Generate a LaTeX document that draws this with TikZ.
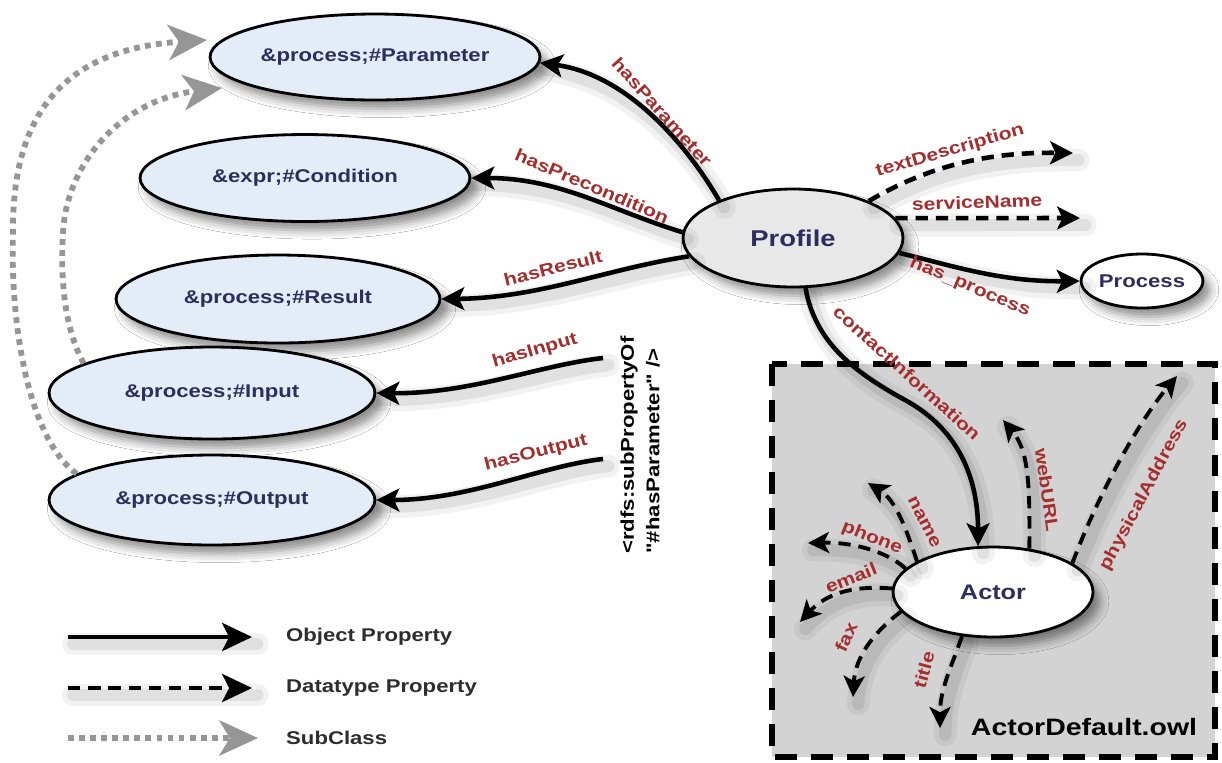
\documentclass[tikz,border=0pt]{standalone}
\usepackage{fontspec}
\setmainfont{Liberation Sans}
\newfontfamily\dfont[FakeStretch=1.2]{Liberation Sans}
\usetikzlibrary{arrows.meta,shapes.geometric,shadows.blur}

\definecolor{nodefill}{RGB}{228,236,247}
\definecolor{proffill}{RGB}{232,232,232}
\definecolor{navy}{RGB}{45,45,95}
\definecolor{labred}{RGB}{165,45,45}
\definecolor{boxgray}{RGB}{211,211,211}
\definecolor{subgray}{RGB}{150,150,150}
\definecolor{legtext}{RGB}{45,45,45}

\tikzset{
  cls/.style={ellipse, draw=black, line width=1.6pt, fill=nodefill, text=navy,
    font=\dfont\bfseries\fontsize{10.5}{12}\selectfont, inner sep=0pt,
    blur shadow={shadow xshift=4pt, shadow yshift=-5pt, shadow blur radius=5pt, shadow opacity=45}},
  shad/.style={
    preaction={draw=black, draw opacity=0.05, line width=13pt, solid, line cap=round,
      transform canvas={shift={(3pt,-4pt)}}, arrows=-},
    preaction={draw=black, draw opacity=0.07, line width=7pt, solid, line cap=round,
      transform canvas={shift={(3pt,-4pt)}}, arrows=-}},
  obj/.style={shad, draw=black, line width=2.6pt, -{Stealth[length=13pt,width=13pt,inset=3pt]}},
  dat/.style={obj, dash pattern=on 7pt off 4.5pt},
  adat/.style={dat, line width=2.2pt, -{Stealth[length=12pt,width=12pt,inset=3pt]}},
  sub/.style={draw=subgray, line width=3.3pt, dash pattern=on 3.3pt off 3pt,
    -{Stealth[length=22pt,width=20pt,inset=6pt]}},
  lab/.style={text=labred, font=\dfont\bfseries\fontsize{10}{12}\selectfont, inner sep=1pt},
  legtxt/.style={text=legtext, anchor=west, font=\dfont\bfseries\fontsize{10.5}{12}\selectfont},
}

\begin{document}
\begin{tikzpicture}[x=0.02cm, y=-0.02cm]
  % page and its bounds
  \fill[white] (0,0) rectangle (1222,762);
  \useasboundingbox (0,0) rectangle (1222,762);

  % ActorDefault.owl region
  \draw[fill=boxgray, line width=3.4pt, dash pattern=on 12.5pt off 8pt] (772,364) rectangle (1215,757);
  \node[font=\dfont\bfseries\fontsize{13.5}{15}\selectfont, text=black] (owl) at (1084,727) {ActorDefault.owl};

  % classes
  \node[cls, minimum width=6.6cm, minimum height=1.72cm] (param) at (375,57) {\&process;\#Parameter};
  \node[cls, minimum width=6.6cm, minimum height=1.74cm] (cond) at (305,178) {\&expr;\#Condition};
  \node[cls, minimum width=6.48cm, minimum height=1.76cm] (res) at (278,299) {\&process;\#Result};
  \node[cls, minimum width=6.52cm, minimum height=1.84cm] (inp) at (212,393) {\&process;\#Input};
  \node[cls, minimum width=6.52cm, minimum height=1.8cm] (out) at (212,500) {\&process;\#Output};
  \node[cls, fill=proffill, minimum width=4.4cm, minimum height=1.96cm,
        font=\dfont\bfseries\fontsize{13}{15}\selectfont] (prof) at (793,238) {Profile};
  \node[cls, fill=white, minimum width=2.4cm, minimum height=1.08cm] (proc) at (1142,281) {Process};
  \node[cls, fill=white, minimum width=4cm, minimum height=1.8cm,
        font=\dfont\bfseries\fontsize{12}{14}\selectfont] (actor) at (993,592) {Actor};

  % subproperty annotation
  \node[rotate=90, align=left, font=\dfont\bfseries\fontsize{10.5}{14.5}\selectfont] (subprop) at (640,445)
    {<rdfs:subPropertyOf\\"\#hasParameter" />};

  % free ends
  \coordinate (inSrc) at (603,358);
  \coordinate (outSrc) at (603,459);
  \coordinate (tdEnd) at (1073,153);
  \coordinate (snEnd) at (1080,218);
  \coordinate (urlEnd) at (1003,420);
  \coordinate (addrEnd) at (1177,376);
  \coordinate (nameEnd) at (868,483);
  \coordinate (phoneEnd) at (808,543);
  \coordinate (emailEnd) at (800,622);
  \coordinate (faxEnd) at (853,697);
  \coordinate (titleEnd) at (940,728);
  \coordinate (subA) at (207,40);
  \coordinate (subB) at (222,88);
  \coordinate (ciBend) at (905,400);

  % subclass links
  \draw[sub] (out.169) .. controls (30,440) and (10,330) .. (13,233)
             .. controls (12,130) and (50,50) .. (subA);
  \draw[sub] (inp.167) .. controls (65,330) and (60,280) .. (63,233)
             .. controls (66,165) and (120,100) .. (subB);

  % object properties
  \draw[obj] (prof.153) .. controls (690,150) and (630,75) .. (param.-2);
  \draw[obj] (prof.177) .. controls (610,210) and (560,178) .. (cond.east);
  \draw[obj] (prof.190) .. controls (610,268) and (540,298) .. (res.east);
  \draw[obj] (inSrc) .. controls (540,365) and (470,394) .. (inp.east);
  \draw[obj] (outSrc) .. controls (540,466) and (470,500) .. (out.east);
  \draw[obj] (prof.-8) .. controls (950,265) and (1000,282) .. (proc.west);
  \draw[obj] (prof.-76) .. controls (815,340) and (850,370) .. (ciBend)
             .. controls (960,430) and (978,480) .. (actor.108);

  % datatype properties
  \draw[dat] (prof.26) .. controls (930,165) and (990,152) .. (tdEnd);
  \draw[dat] (prof.11) -- (snEnd);
  \draw[adat] (actor.50) .. controls (1030,480) and (1028,450) .. (urlEnd);
  \draw[adat] (actor.20) .. controls (1100,490) and (1140,420) .. (addrEnd);
  \draw[adat] (actor.158) .. controls (905,525) and (895,500) .. (nameEnd);
  \draw[adat] (actor.165) .. controls (885,550) and (850,542) .. (phoneEnd);
  \draw[adat] (actor.178) .. controls (850,585) and (825,595) .. (emailEnd);
  \draw[adat] (actor.192) .. controls (870,635) and (855,660) .. (faxEnd);
  \draw[adat] (actor.235) .. controls (950,670) and (940,690) .. (titleEnd);

  % property names
  \node[lab, rotate=-48] (lPar) at (662,112) {hasParameter};
  \node[lab, rotate=-23] (lPre) at (592,186) {hasPrecondition};
  \node[lab, rotate=14] (lRes) at (553,268) {hasResult};
  \node[lab, rotate=16] (lIn) at (535,351) {hasInput};
  \node[lab, rotate=14] (lOut) at (536,453) {hasOutput};
  \node[lab, rotate=16] (lTd) at (950,151) {textDescription};
  \node[lab, rotate=2] (lSn) at (977,202) {serviceName};
  \node[lab, rotate=-23] (lHp) at (970,287) {has\_process};
  \node[lab, rotate=-42] (lCi) at (907,373) {contactInformation};
  \node[lab, rotate=-82] (lUrl) at (1047,490) {webURL};
  \node[lab, rotate=62] (lAddr) at (1144,495) {physicalAddress};
  \node[lab, rotate=-63] (lName) at (924,522) {name};
  \node[lab, rotate=-22] (lPhone) at (872,538) {phone};
  \node[lab, rotate=22] (lEmail) at (851,578) {email};
  \node[lab, rotate=65] (lFax) at (846,637) {fax};
  \node[lab, rotate=75] (lTitle) at (924,670) {title};

  % legend
  \coordinate (lgA1) at (68,637);  \coordinate (lgA2) at (252,637);
  \coordinate (lgB1) at (68,688);  \coordinate (lgB2) at (252,688);
  \coordinate (lgC1) at (68,738);  \coordinate (lgC2) at (258,738);
  \draw[obj, -{Stealth[length=17pt,width=16pt,inset=4pt]}] (lgA1) -- (lgA2);
  \draw[dat, -{Stealth[length=17pt,width=16pt,inset=4pt]}] (lgB1) -- (lgB2);
  \draw[sub] (lgC1) -- (lgC2);
  \node[legtxt] (tA) at (280,637) {Object Property};
  \node[legtxt] (tB) at (280,688) {Datatype Property};
  \node[legtxt] (tC) at (280,738) {SubClass};
\end{tikzpicture}
\end{document}
